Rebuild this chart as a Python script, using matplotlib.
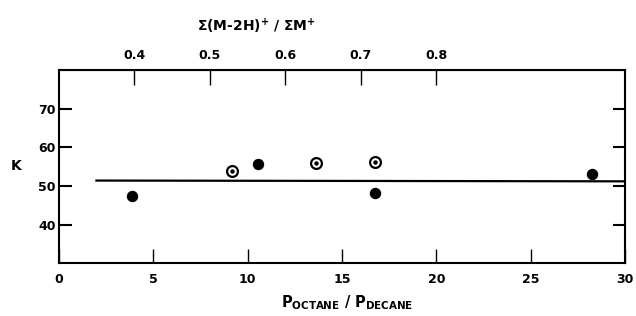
import matplotlib
matplotlib.use("Agg")
import matplotlib.pyplot as plt

# Werte
ratio_filled = [3.9, 10.55, 16.75, 28.25]
k_filled = [47.4, 55.6, 48.3, 53.1]
ratio_open = [9.2, 13.6, 16.75]
k_open = [53.9, 55.9, 56.1]
fit_x = [2.0, 30.0]
fit_k = [51.4, 51.2]

bottom_ticks = [0, 5, 10, 15, 20, 25, 30]
left_ticks = [40, 50, 60, 70]
top_ticks = [0.4, 0.5, 0.6, 0.7, 0.8]

plt.rcParams["font.family"] = ["DejaVu Sans"]
plt.rcParams["mathtext.default"] = "regular"

fig = plt.figure(figsize=(6.36, 3.16), dpi=100)
ax = fig.add_axes([0.0922, 0.1668, 0.891, 0.6117])

ax.plot(fit_x, fit_k, color="black", linewidth=1.6, zorder=2)
ax.plot(ratio_filled, k_filled, "o", color="black", markersize=7.2, zorder=3)
ax.plot(ratio_open, k_open, "o", markerfacecolor="white",
        markeredgecolor="black", markeredgewidth=1.6, markersize=7.8, zorder=3)
ax.plot(ratio_open, k_open, "o", color="black", markersize=2.2, zorder=4)

ax.set_xlim(0, 30)
ax.set_ylim(30, 80)
ax.set_xticks(bottom_ticks)
ax.set_yticks(left_ticks)
ax.tick_params(axis="x", direction="in", length=10, width=1.0,
               labelsize=9, pad=7)
ax.tick_params(axis="y", direction="in", length=9, width=1.5,
               labelsize=9, pad=2, right=True)
for lbl in ax.get_xticklabels() + ax.get_yticklabels():
    lbl.set_fontweight("bold")

for side in ["left", "right", "top", "bottom"]:
    ax.spines[side].set_linewidth(1.5)

secax = ax.secondary_xaxis("top", functions=(lambda x: 0.3 + x / 40.0,
                                              lambda t: (t - 0.3) * 40.0))
secax.set_xticks(top_ticks)
secax.set_xticklabels([f"{t:.1f}" for t in top_ticks])
secax.tick_params(direction="in", length=11, width=1.0, labelsize=9, pad=6)
for lbl in secax.get_xticklabels():
    lbl.set_fontweight("bold")

fig.text(256 / 636, 1 - 26 / 316, "Σ(M-2H)$^{+}$ / ΣM$^{+}$",
         ha="center", va="center", fontsize=10, fontweight="bold")
fig.text(347 / 636, 1 - 303 / 316, r"$P_{OCTANE}$ / $P_{DECANE}$",
         ha="center", va="center", fontsize=10.5, fontweight="bold")
fig.text(16 / 636, 1 - 166 / 316, "K", ha="center", va="center",
         fontsize=10, fontweight="bold")

fig.savefig("out.png", dpi=100)
